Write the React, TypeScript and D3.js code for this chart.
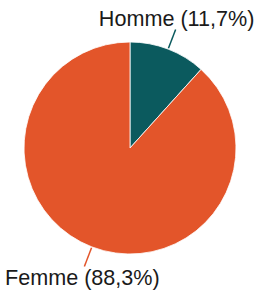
import React from "react";
import * as d3 from "d3";

const categories = ["Homme", "Femme"];
const values = [11.7, 88.3];
const labels = ["Homme (11,7%)", "Femme (88,3%)"];
const colors = ["#0b5a5e", "#e3552a"];

export default function App() {
  const width = 254;
  const height = 292;
  const cx = 130;
  const cy = 148;
  const r = 106;
  const pie = d3.pie<number>().sort(null).value((d) => d);
  const arcs = pie(values);
  const arc = d3.arc<d3.PieArcDatum<number>>().innerRadius(0).outerRadius(r);
  const labelOffsets = [
    { dx: 1, dy: -3 },
    { dx: -2, dy: 18 },
  ];
  return (
    <svg
      width={width}
      height={height}
      style={{ position: "absolute", left: 0, top: 0 }}
    >
      <g transform={`translate(${cx},${cy})`}>
        {arcs.map((a, i) => (
          <path
            key={categories[i]}
            d={arc(a) || ""}
            fill={colors[i]}
            stroke="#ffffff"
            strokeWidth={0.8}
          />
        ))}
        {arcs.map((a, i) => {
          const mid = (a.startAngle + a.endAngle) / 2;
          const x1 = Math.sin(mid) * (r + 1);
          const y1 = -Math.cos(mid) * (r + 1);
          const x2 = Math.sin(mid) * (r + 21);
          const y2 = -Math.cos(mid) * (r + 21);
          return (
            <g key={"l" + categories[i]}>
              <line
                x1={x1}
                y1={y1}
                x2={x2}
                y2={y2}
                stroke={colors[i]}
                strokeWidth={1.5}
              />
              <text
                x={x2 + labelOffsets[i].dx}
                y={y2 + labelOffsets[i].dy}
                textAnchor="middle"
                fontFamily="'Liberation Sans', Arial, sans-serif"
                fontSize={21.6}
                fill="#1a1a1a"
              >
                {labels[i]}
              </text>
            </g>
          );
        })}
      </g>
    </svg>
  );
}
